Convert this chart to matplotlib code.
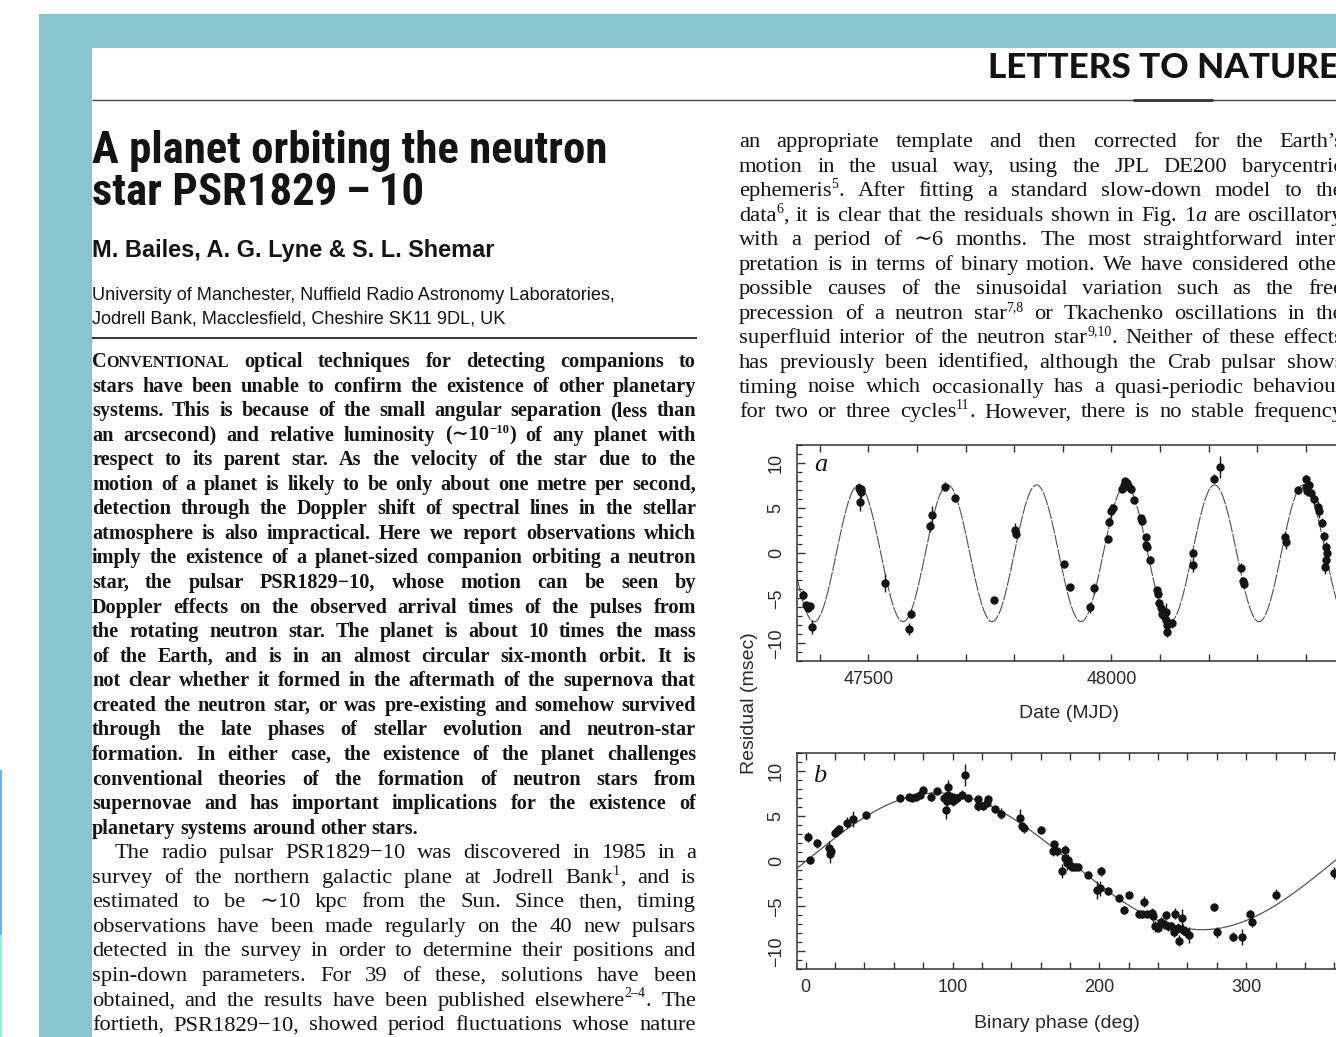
import matplotlib
matplotlib.use('Agg')
import numpy as np
import matplotlib.pyplot as plt
from matplotlib.font_manager import FontProperties, fontManager
from matplotlib.patches import Rectangle
from matplotlib.ticker import MultipleLocator, FuncFormatter

# ---------------- data: panel a (timing residuals vs date) ----------------
a_mjd = [47366, 47371, 47375, 47380, 47385, 47480, 47482, 47484, 47486, 47483,
         47534, 47584, 47588, 47627, 47631, 47658, 47679, 47759, 47802, 47804,
         47902, 47914, 47955, 47964, 47992, 47995, 47999, 48003, 48021, 48026,
         48028, 48031, 48033, 48036, 48041, 48047, 48060, 48062, 48071, 48072,
         48074, 48079, 48093, 48095, 48098, 48102, 48105, 48109, 48112, 48113,
         48115, 48114, 48125, 48167, 48168, 48211, 48223, 48266, 48270, 48272,
         48356, 48359, 48384, 48400, 48401, 48403, 48406, 48410, 48417, 48424,
         48427, 48433, 48437, 48441, 48443, 48441, 48440]
a_res = [-4.6, -5.8, -6.1, -5.9, -8.2, 7.3, 7.0, 6.8, 7.2, 5.7,
         -3.3, -8.4, -6.7, 3.0, 4.3, 7.4, 6.1, -5.2, 2.6, 2.2,
         -1.2, -3.8, -6.0, -3.9, 1.6, 3.5, 4.7, 5.0, 7.2, 7.6,
         8.0, 7.5, 7.8, 7.4, 7.1, 5.9, 3.9, 3.6, 1.8, 0.9,
         0.7, -0.7, -4.1, -4.5, -5.5, -6.1, -6.7, -7.0, -6.5, -7.4,
         -8.0, -8.7, -7.8, 0.0, -1.3, 8.3, 9.6, -1.6, -3.1, -3.4,
         1.8, 1.3, 7.0, 8.3, 7.4, 6.9, 7.6, 6.7, 6.0, 5.2,
         4.7, 3.4, 1.9, 0.7, 0.0, -0.7, -1.5]
a_err = [0.5, 0.4, 0.4, 0.4, 0.8, 0.5, 0.5, 0.6, 0.4, 1.0,
         1.0, 0.7, 0.5, 0.6, 1.0, 0.5, 0.4, 0.3, 0.8, 0.5,
         0.4, 0.4, 0.6, 0.6, 0.4, 0.5, 0.8, 0.5, 0.4, 0.4,
         0.4, 0.4, 0.4, 0.4, 0.4, 0.4, 0.4, 0.4, 0.4, 0.5,
         0.4, 0.4, 0.4, 0.4, 0.4, 0.4, 0.5, 0.5, 1.0, 0.5,
         0.5, 0.6, 0.5, 0.5, 0.8, 0.5, 1.2, 0.5, 0.5, 0.5,
         0.6, 0.8, 0.4, 0.4, 0.5, 0.5, 0.5, 0.5, 0.6, 0.6,
         0.8, 0.5, 0.5, 0.6, 0.6, 0.6, 0.8]

# ---------------- data: panel b (residuals vs binary phase) ----------------
b_phase = [1.4, 2.9, 7.5, 16.1, 16.6, 17.5, 19.9, 21.5, 22.9, 27.9,
           32.0, 41.1, 64.2, 70.4, 72.2, 75.1, 77.8, 80.1, 85.1, 89.6,
           94.4, 95.6, 96.0, 97.2, 97.2, 99.4, 100.6, 102.8, 106.3, 108.5,
           110.8, 117.1, 117.6, 121.0, 123.3, 124.4, 129.0, 133.0, 145.9, 147.6,
           148.9, 160.3, 169.4, 168.7, 171.0, 174.4, 176.6, 176.6, 177.8, 178.9,
           180.0, 181.1, 183.4, 185.7, 192.5, 201.1, 198.2, 200.5, 206.2, 213.5,
           217.1, 220.3, 230.1, 226.7, 229.0, 232.3, 235.7, 236.3, 238.0, 239.7,
           242.0, 244.3, 245.4, 246.5, 248.8, 251.0, 251.5, 253.3, 254.5, 256.3,
           256.7, 259.0, 260.8, 278.3, 279.9, 291.2, 296.9, 302.6, 304.0, 320.3,
           360.0]
b_res = [2.7, 0.1, 2.0, 1.5, 0.8, 1.2, 3.2, 3.4, 3.6, 4.3,
         4.7, 5.1, 7.0, 7.1, 7.0, 7.2, 7.4, 7.9, 7.2, 7.8,
         7.0, 5.7, 6.7, 8.3, 7.4, 7.1, 6.7, 7.0, 7.4, 9.6,
         7.0, 6.9, 6.1, 6.1, 6.5, 6.9, 5.8, 5.3, 4.8, 3.9,
         3.7, 3.5, 1.9, 1.1, 1.1, -1.1, 1.3, 0.4, -0.2, 0.2,
         -0.4, -0.6, -0.6, -0.6, -1.5, -1.1, -3.2, -3.0, -3.3, -4.1,
         -5.4, -3.7, -4.5, -5.9, -5.9, -5.9, -5.7, -6.1, -7.2, -7.4,
         -6.7, -7.0, -6.0, -7.2, -7.2, -7.9, -5.8, -7.4, -8.8, -6.3,
         -7.6, -7.8, -8.2, -5.1, -7.9, -8.4, -8.4, -5.9, -6.7, -3.7,
         -1.3]
b_err = [0.6, 0.4, 0.5, 0.8, 1.0, 0.6, 0.4, 0.4, 0.4, 0.6,
         0.9, 0.4, 0.4, 0.3, 0.3, 0.4, 0.4, 0.4, 0.5, 0.3,
         0.6, 1.0, 0.6, 0.7, 0.5, 0.5, 0.5, 0.5, 0.5, 1.2,
         0.4, 0.3, 0.5, 0.4, 0.4, 0.4, 0.4, 0.6, 1.0, 0.5,
         0.5, 0.4, 0.4, 0.5, 0.5, 0.8, 0.5, 0.6, 0.8, 0.6,
         0.5, 0.4, 0.4, 0.4, 0.4, 0.5, 1.0, 0.8, 0.4, 0.4,
         0.4, 0.4, 0.6, 0.4, 0.4, 0.4, 0.5, 0.6, 0.6, 0.5,
         0.5, 0.5, 0.5, 0.5, 0.5, 0.5, 0.6, 0.5, 0.6, 1.0,
         0.6, 0.6, 0.9, 0.4, 0.6, 0.5, 0.9, 0.5, 0.6, 0.6,
         0.7]

# fitted orbit model
model_period = 183.0      # days
model_epoch = 47480.0     # MJD of a maximum
model_amplitude = 7.6     # msec

# tick labels
a_xtick_labels = ['47500', '48000']
b_xtick_labels = ['0', '100', '200', '300']
ytick_labels = ['\u221210', '\u22125', '0', '5', '10']

# ---------------- text ----------------
header = 'LETTERS TO NATURE'
title_lines = ['A planet orbiting the neutron', 'star PSR1829\u2009\u2013\u200910']
authors = 'M. Bailes, A. G. Lyne & S. L. Shemar'
affiliation = ['University of Manchester, Nuffield Radio Astronomy Laboratories,',
               'Jodrell Bank, Macclesfield, Cheshire SK11 9DL, UK']
abstract_lines = [
    'C|s:ONVENTIONAL optical techniques for detecting companions to',
    'stars have been unable to confirm the existence of other planetary',
    'systems. This is because of the small angular separation (less than',
    'an arcsecond) and relative luminosity (\u223c10|^:\u221210|) of any planet with',
    'respect to its parent star. As the velocity of the star due to the',
    'motion of a planet is likely to be only about one metre per second,',
    'detection through the Doppler shift of spectral lines in the stellar',
    'atmosphere is also impractical. Here we report observations which',
    'imply the existence of a planet-sized companion orbiting a neutron',
    'star, the pulsar PSR1829\u221210, whose motion can be seen by',
    'Doppler effects on the observed arrival times of the pulses from',
    'the rotating neutron star. The planet is about 10 times the mass',
    'of the Earth, and is in an almost circular six-month orbit. It is',
    'not clear whether it formed in the aftermath of the supernova that',
    'created the neutron star, or was pre-existing and somehow survived',
    'through the late phases of stellar evolution and neutron-star',
    'formation. In either case, the existence of the planet challenges',
    'conventional theories of the formation of neutron stars from',
    'supernovae and has important implications for the existence of',
    'planetary systems around other stars.',
]
body_lines = [
    'The radio pulsar PSR1829\u221210 was discovered in 1985 in a',
    'survey of the northern galactic plane at Jodrell Bank|^:1|, and is',
    'estimated to be \u223c10 kpc from the Sun. Since then, timing',
    'observations have been made regularly on the 40 new pulsars',
    'detected in the survey in order to determine their positions and',
    'spin-down parameters. For 39 of these, solutions have been',
    'obtained, and the results have been published elsewhere|^:2\u20134|. The',
    'fortieth, PSR1829\u221210, showed period fluctuations whose nature',
]
right_lines = [
    'an appropriate template and then corrected for the Earth\u2019s',
    'motion in the usual way, using the JPL DE200 barycentric',
    'ephemeris|^:5|. After fitting a standard slow-down model to the',
    'data|^:6|, it is clear that the residuals shown in Fig. 1|i:a are oscillatory',
    'with a period of \u223c6 months. The most straightforward inter-',
    'pretation is in terms of binary motion. We have considered other',
    'possible causes of the sinusoidal variation such as the free',
    'precession of a neutron star|^:7,8 or Tkachenko oscillations in the',
    'superfluid interior of the neutron star|^:9,10|. Neither of these effects',
    'has previously been identified, although the Crab pulsar shows',
    'timing noise which occasionally has a quasi-periodic behaviour',
    'for two or three cycles|^:11|. However, there is no stable frequency',
]

# ---------------- figure ----------------
W, H = 1336, 1037
plt.rcParams['font.family'] = ['Liberation Sans', 'DejaVu Sans']
fig = plt.figure(figsize=(W / 100, H / 100), dpi=100)
fig.patch.set_facecolor('white')
renderer = fig.canvas.get_renderer()

bg = fig.add_axes([0, 0, 1, 1], zorder=0)
bg.set_xlim(0, W)
bg.set_ylim(H, 0)
bg.axis('off')

installed = {f.name for f in fontManager.ttflist}


def pick(cands, default):
    for c in cands:
        if c in installed:
            return c
    return default


SERIF = ['Liberation Serif', 'DejaVu Serif']
SANS = ['Liberation Sans', 'DejaVu Sans']
TITLE = [pick(['Liberation Sans Narrow', 'Arial Narrow', 'DejaVu Sans Condensed',
               'Roboto Condensed'], 'Liberation Sans'), 'DejaVu Sans']
HEAVY = [pick(['Lato', 'Roboto', 'Liberation Sans'], 'Liberation Sans'), 'DejaVu Sans']
INK = '#141414'
TEAL = '#88c5cc'

# page frame
bg.add_patch(Rectangle((39, 14), W - 39, H - 14, color=TEAL, lw=0))
bg.add_patch(Rectangle((92, 48), W - 92, H - 48, color='white', lw=0))
bg.add_patch(Rectangle((0, 770), 2, 165, color='#62b4ff', lw=0))
bg.add_patch(Rectangle((0, 935), 2, 102, color='#7dffd2', lw=0))
bg.plot([92, W], [100, 100], color='#444444', lw=1.0, solid_capstyle='butt')
bg.plot([1133, 1213], [100, 100], color='#333333', lw=2.0, solid_capstyle='butt')
bg.plot([92, 697], [338, 338], color='#333333', lw=1.4, solid_capstyle='butt')


def tw(s, fp):
    w, h, d = renderer.get_text_width_height_descent(s, fp, ismath=False)
    return w


def fit_size(s, family, weight, target, style='normal'):
    fp = FontProperties(family=family, weight=weight, style=style, size=10)
    return 10 * target / tw(s, fp)


def parse_word(word):
    runs = []
    for seg in word.split('|'):
        if seg == '':
            continue
        if seg.startswith('^:'):
            runs.append((seg[2:], 'sup'))
        elif seg.startswith('i:'):
            runs.append((seg[2:], 'ital'))
        elif seg.startswith('s:'):
            runs.append((seg[2:], 'small'))
        else:
            runs.append((seg, 'norm'))
    return runs


def run_fp(kind, family, weight, size):
    if kind == 'sup':
        return FontProperties(family=family, weight=weight, size=size * 0.62)
    if kind == 'ital':
        return FontProperties(family=family, weight=weight, style='italic', size=size)
    if kind == 'small':
        return FontProperties(family=family, weight=weight, size=size * 0.80)
    return FontProperties(family=family, weight=weight, size=size)


def word_width(word, family, weight, size):
    return sum(tw(s, run_fp(k, family, weight, size)) for s, k in parse_word(word))


def natural_width(line, family, weight, size):
    words = line.split(' ')
    sp = tw(' ', FontProperties(family=family, weight=weight, size=size))
    return sum(word_width(w, family, weight, size) for w in words) + sp * (len(words) - 1)


def draw_line(line, x0, x1, y, family, weight, size, justify=True):
    nat = natural_width(line, family, weight, size)
    if nat > (x1 - x0) * 0.995:
        size = size * (x1 - x0) * 0.995 / nat
    words = line.split(' ')
    widths = [word_width(w, family, weight, size) for w in words]
    sp = tw(' ', FontProperties(family=family, weight=weight, size=size))
    if justify and len(words) > 1:
        gap = (x1 - x0 - sum(widths)) / (len(words) - 1)
    else:
        gap = sp
    x = x0
    for w, ww in zip(words, widths):
        for s, k in parse_word(w):
            fp = run_fp(k, family, weight, size)
            yy = y - (size * 100 / 72 * 0.36 if k == 'sup' else 0)
            bg.text(x, yy, s, fontproperties=fp, ha='left', va='baseline', color=INK)
            x += tw(s, fp)
        x += gap


# header
hs = fit_size(header, HEAVY, 900, 352)
bg.text(988, 78, header, fontproperties=FontProperties(family=HEAVY, weight=900, size=hs),
        ha='left', va='baseline', color=INK)

# title
ts = fit_size(title_lines[0], TITLE, 900, 515)
tfp = FontProperties(family=TITLE, weight=900, size=ts)
bg.text(92, 163, title_lines[0], fontproperties=tfp, ha='left', va='baseline', color=INK)
bg.text(92, 205, title_lines[1], fontproperties=tfp, ha='left', va='baseline', color=INK)

# authors & affiliation
asz = fit_size(authors, SANS, 'bold', 402)
bg.text(92, 257, authors, fontproperties=FontProperties(family=SANS, weight='bold', size=asz),
        ha='left', va='baseline', color=INK)
afs = fit_size(affiliation[0], SANS, 'normal', 526)
afp = FontProperties(family=SANS, size=afs)
bg.text(92, 300, affiliation[0], fontproperties=afp, ha='left', va='baseline', color=INK)
bg.text(92, 323, affiliation[1], fontproperties=afp, ha='left', va='baseline', color=INK)

# body text columns
LX0, LX1 = 92, 696
RX0, RX1 = 739, 1343
LEAD = 24.56


def col_size(lines, family, weight, width, cap):
    best = cap
    for ln in lines:
        nw = natural_width(ln, family, weight, 10)
        best = min(best, 10 * width * 0.995 / nw)
    return best


s_bold = col_size(abstract_lines[:-1], SERIF, 'bold', LX1 - LX0, 14.6)
s_reg = 16.2

for i, ln in enumerate(abstract_lines):
    draw_line(ln, LX0, LX1, 367 + i * LEAD, SERIF, 'bold', s_bold,
              justify=(i < len(abstract_lines) - 1))
for j, ln in enumerate(body_lines):
    i = j + len(abstract_lines)
    x0 = LX0 + (23 if j == 0 else 0)
    draw_line(ln, x0, LX1, 367 + i * LEAD, SERIF, 'normal', s_reg)
for j, ln in enumerate(right_lines):
    draw_line(ln, RX0, RX1, 147 + j * 24.55, SERIF, 'normal', s_reg)

# ---------------- plots ----------------


def px_axes(x0, ytop, x1, ybot):
    return [x0 / W, 1 - ybot / H, (x1 - x0) / W, (ybot - ytop) / H]


def style_axes(ax):
    ax.set_facecolor('none')
    for sp in ax.spines.values():
        sp.set_linewidth(1.1)
        sp.set_color('#333333')
    ax.set_ylim(-12, 12)
    ax.yaxis.set_major_locator(MultipleLocator(5))
    ax.yaxis.set_minor_locator(MultipleLocator(1))
    ax.yaxis.set_major_formatter(FuncFormatter(
        lambda v, p: ytick_labels[int(round(v / 5)) + 2] if abs(v) <= 10 else ''))
    ax.tick_params(which='both', direction='in', top=True, right=True,
                   color='#333333', labelcolor='#2a2a2a', labelsize=13)
    ax.tick_params(axis='y', which='major', length=6, width=1.0, pad=9, labelrotation=90)
    ax.tick_params(axis='y', which='minor', length=3.5, width=0.9)
    ax.tick_params(axis='x', which='both', length=5, width=1.0, pad=7)
    for lbl in ax.get_yticklabels():
        lbl.set_va('center')


# panel a
axA = fig.add_axes(px_axes(797.3, 445.3, 1364.3, 661.3), zorder=2)
style_axes(axA)
axA.set_xlim(47354, 48520)
axA.xaxis.set_major_locator(MultipleLocator(500))
axA.xaxis.set_minor_locator(MultipleLocator(100))
axA.xaxis.set_major_formatter(FuncFormatter(
    lambda v, p: a_xtick_labels[int(round((v - 47500) / 500))]
    if 0 <= round((v - 47500) / 500) < len(a_xtick_labels) else ''))
tA = np.linspace(47354, 48520, 1200)
axA.plot(tA, model_amplitude * np.cos(2 * np.pi * (tA - model_epoch) / model_period),
         color='#505050', lw=0.8, ls=(0, (12, 1.2)), zorder=2)
axA.errorbar(a_mjd, a_res, yerr=a_err, fmt='o', ms=5, color=INK, ecolor=INK,
             elinewidth=1.0, capsize=0, zorder=3)

# panel b
axB = fig.add_axes(px_axes(797.3, 753.3, 1351.9, 969.3), zorder=2)
style_axes(axB)
axB.set_xlim(-5.7, 372)
axB.xaxis.set_major_locator(MultipleLocator(100))
axB.xaxis.set_minor_locator(MultipleLocator(20))
axB.xaxis.set_major_formatter(FuncFormatter(
    lambda v, p: b_xtick_labels[int(round(v / 100))]
    if 0 <= round(v / 100) < len(b_xtick_labels) else ''))
ph = np.linspace(-5.7, 372, 800)
axB.plot(ph, model_amplitude * np.sin(np.radians(ph)), color='#555555', lw=0.9, zorder=2)
axB.errorbar(b_phase, b_res, yerr=b_err, fmt='o', ms=5, color=INK, ecolor=INK,
             elinewidth=1.0, capsize=0, zorder=3)

# axis labels and panel letters
lab_fp = FontProperties(family=SANS, size=14)
bg.text(1069, 713, 'Date (MJD)', fontproperties=lab_fp, ha='center', va='center', color='#2a2a2a')
bg.text(1057, 1024, 'Binary phase (deg)', fontproperties=lab_fp, ha='center', va='center',
        color='#2a2a2a')
bg.text(750, 703, 'Residual (msec)', fontproperties=lab_fp, ha='center', va='center',
        rotation=90, color='#2a2a2a')
let_fp = FontProperties(family=SERIF, style='italic', size=19)
axA.text(821, 465, 'a', fontproperties=let_fp, ha='center', va='center', color=INK,
         transform=bg.transData, zorder=5)
axB.text(820, 776, 'b', fontproperties=let_fp, ha='center', va='center', color=INK,
         transform=bg.transData, zorder=5)

fig.savefig('out.png', dpi=100)
